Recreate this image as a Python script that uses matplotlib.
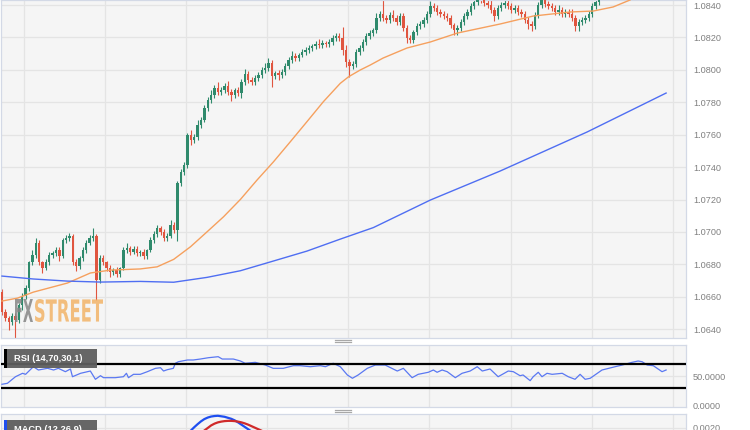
import numpy as np
import matplotlib
matplotlib.use("Agg")
import matplotlib.pyplot as plt
from matplotlib.patches import Rectangle, PathPatch
from matplotlib.lines import Line2D
from matplotlib.textpath import TextPath
from matplotlib.font_manager import FontProperties
from matplotlib.transforms import Affine2D

plt.rcParams['font.family'] = ['Liberation Sans', 'DejaVu Sans']

# Datos (velas horarias EUR/USD)
first_open = 1.06629
closes = [
    1.06506, 1.06469, 1.06444, 1.06481, 1.06457, 1.06549, 1.06605, 1.06654, 1.06814, 1.06858,
    1.06932, 1.06814, 1.06777, 1.06814, 1.06858, 1.06870, 1.06888, 1.06851, 1.06950, 1.06963,
    1.06975, 1.06814, 1.06790, 1.06839, 1.06888, 1.06932, 1.06963, 1.06975, 1.06703, 1.06839,
    1.06814, 1.06777, 1.06753, 1.06765, 1.06740, 1.06777, 1.06888, 1.06901, 1.06876, 1.06895,
    1.06870, 1.06876, 1.06851, 1.06888, 1.06950, 1.06987, 1.07024, 1.07000, 1.06963, 1.06975,
    1.07043, 1.07012, 1.07302, 1.07370, 1.07413, 1.07598, 1.07567, 1.07586, 1.07660, 1.07691,
    1.07765, 1.07814, 1.07845, 1.07888, 1.07863, 1.07876, 1.07900, 1.07863, 1.07845, 1.07876,
    1.07857, 1.07925, 1.07974, 1.07937, 1.07925, 1.07950, 1.07968, 1.07999, 1.08011, 1.08042,
    1.07962, 1.07981, 1.07968, 1.07987, 1.08024, 1.08061, 1.08085, 1.08073, 1.08092, 1.08110,
    1.08122, 1.08135, 1.08147, 1.08160, 1.08153, 1.08166, 1.08160, 1.08172, 1.08197, 1.08209,
    1.08197, 1.08122, 1.08048, 1.08024, 1.08036, 1.08110, 1.08135, 1.08172, 1.08209, 1.08227,
    1.08246, 1.08320, 1.08345, 1.08320, 1.08308, 1.08338, 1.08320, 1.08295, 1.08332, 1.08258,
    1.08197, 1.08184, 1.08234, 1.08271, 1.08283, 1.08308, 1.08345, 1.08394, 1.08382, 1.08357,
    1.08345, 1.08332, 1.08320, 1.08277, 1.08246, 1.08258, 1.08295, 1.08332, 1.08357, 1.08394,
    1.08419, 1.08443, 1.08431, 1.08412, 1.08400, 1.08369, 1.08332, 1.08382, 1.08400, 1.08412,
    1.08394, 1.08369, 1.08382, 1.08357, 1.08345, 1.08308, 1.08283, 1.08271, 1.08338, 1.08400,
    1.08431, 1.08406, 1.08394, 1.08382, 1.08357, 1.08369, 1.08345, 1.08357, 1.08345, 1.08320,
    1.08271, 1.08295, 1.08308, 1.08320, 1.08345, 1.08394, 1.08419, 1.08443,
]
# mechas en pips (0.0001)
upper_wick = [
    2, 2, 1, 2, 2, 1, 2, 2, 1, 3, 3, 2, 1, 2, 2, 1, 2, 2, 1, 2,
    2, 1, 2, 1, 2, 2, 2, 5, 1, 2, 2, 1, 2, 1, 2, 1, 2, 3, 1, 2,
    2, 1, 2, 1, 2, 2, 2, 1, 2, 2, 3, 2, 1, 2, 2, 1, 3, 2, 3, 2,
    2, 2, 3, 2, 4, 2, 2, 3, 2, 1, 2, 2, 3, 2, 2, 2, 2, 2, 3, 3,
    2, 1, 2, 2, 2, 2, 3, 2, 1, 2, 2, 2, 1, 2, 3, 2, 1, 2, 2, 2,
    2, 7, 3, 2, 2, 2, 2, 2, 2, 2, 1, 3, 2, 9, 2, 2, 3, 2, 2, 2,
    2, 2, 1, 2, 2, 2, 2, 3, 2, 2, 2, 2, 2, 2, 1, 2, 2, 2, 2, 2,
    2, 2, 2, 2, 2, 3, 2, 2, 2, 2, 3, 2, 2, 2, 2, 2, 2, 2, 2, 2,
    2, 2, 2, 2, 2, 3, 2, 2, 2, 3, 2, 2, 2, 2, 2, 2, 2, 2,
]
lower_wick = [
    2, 2, 5, 2, 11, 2, 3, 2, 2, 2, 2, 2, 3, 1, 2, 2, 2, 3, 1, 2,
    2, 2, 3, 2, 2, 2, 1, 2, 12, 2, 2, 2, 3, 2, 2, 2, 1, 2, 2, 1,
    2, 2, 2, 2, 1, 2, 2, 2, 2, 2, 1, 2, 7, 2, 2, 2, 3, 2, 2, 2,
    1, 2, 2, 2, 2, 2, 2, 2, 4, 2, 2, 3, 2, 2, 2, 2, 2, 2, 2, 2,
    7, 2, 3, 2, 2, 2, 2, 2, 2, 1, 2, 2, 2, 2, 2, 2, 2, 2, 2, 2,
    2, 3, 3, 7, 2, 2, 2, 2, 2, 2, 2, 2, 2, 2, 2, 2, 2, 2, 2, 2,
    3, 2, 2, 2, 2, 2, 2, 2, 2, 2, 2, 2, 2, 2, 3, 3, 2, 2, 2, 2,
    2, 2, 2, 2, 2, 2, 3, 2, 2, 2, 2, 2, 2, 2, 2, 2, 3, 3, 2, 2,
    2, 2, 2, 2, 2, 2, 2, 2, 2, 2, 3, 3, 2, 2, 2, 2, 2, 2,
]

# medias moviles (indice de vela, precio)
ma_fast_x = [0, 4.6, 9.3, 19.4, 26.2, 32.2, 41.0, 46.0, 50.9, 55.9, 60.8, 65.7, 70.7,
             75.6, 80.5, 85.5, 90.4, 95.3, 100.3, 102.8, 106.2, 109.2, 113.0, 120.1,
             127.0, 135.0, 147.7, 157.5, 168.4, 175.3, 181.2, 186.2]
ma_fast_y = [1.06574, 1.06592, 1.06629, 1.06685, 1.06747, 1.06765, 1.06772, 1.06785,
             1.06831, 1.06909, 1.07001, 1.07094, 1.07201, 1.07320, 1.07433, 1.07557,
             1.07680, 1.07804, 1.07917, 1.07958, 1.07999, 1.08030, 1.08073, 1.08135,
             1.08172, 1.08227, 1.08283, 1.08332, 1.08357, 1.08363, 1.08388, 1.08431]
ma_slow_x = [0, 9.3, 19.4, 29.2, 41.0, 50.9, 60.8, 70.7, 80.5, 90.4, 100.3, 110.1,
             127.0, 147.7, 173.5, 196.9]
ma_slow_y = [1.06728, 1.06710, 1.06697, 1.06691, 1.06695, 1.06690, 1.06720, 1.06761,
             1.06821, 1.06882, 1.06956, 1.07027, 1.07197, 1.07376, 1.07617, 1.07857]

# RSI (14)
rsi_x = [0, 1.6, 4.0, 6.1, 7.0, 9.3, 10.8, 13.5, 15.3, 16.7, 18.8, 20.3, 20.9, 23.3,
         26.2, 27.7, 29.2, 30.1, 33.6, 36.0, 36.9, 37.5, 39.0, 41.0, 43.1, 45.5, 47.0,
         47.9, 49.0, 50.8, 51.4, 52.3, 55.0, 56.7, 58.8, 61.2, 64.1, 65.3, 68.6, 70.7,
         72.1, 75.1, 78.1, 80.4, 83.4, 86.4, 88.4, 91.4, 94.4, 95.9, 98.2, 100.3, 102.4,
         103.9, 105.6, 108.3, 110.7, 113.6, 117.2, 119.0, 121.6, 123.4, 126.4, 127.9,
         129.0, 130.5, 132.0, 134.4, 136.4, 138.8, 140.9, 142.4, 144.7, 147.1, 150.1,
         151.6, 153.6, 154.5, 156.6, 157.5, 159.0, 160.1, 161.6, 163.1, 166.1, 167.9,
         169.9, 171.4, 172.9, 174.4, 177.9, 181.8, 183.9, 186.8, 188.6, 189.8, 191.3,
         193.1, 195.7, 196.9]
rsi_val = [36.2, 37.8, 48.8, 54.5, 52.8, 65.5, 60.0, 62.8, 60.0, 62.8, 57.2, 61.7, 48.8,
           54.5, 58.3, 44.5, 50.5, 47.2, 47.2, 48.8, 54.5, 47.2, 52.8, 52.8, 57.2, 62.8,
           63.8, 58.3, 60.5, 62.8, 71.2, 73.8, 76.7, 76.7, 78.3, 80.5, 82.2, 78.3, 78.3,
           75.0, 71.2, 72.8, 68.3, 62.8, 62.8, 67.2, 67.2, 65.5, 67.2, 65.5, 71.2, 65.5,
           51.7, 46.2, 51.7, 62.8, 68.3, 68.3, 58.3, 62.8, 47.2, 52.8, 56.2, 60.0, 56.2,
           60.0, 57.2, 47.2, 54.5, 58.3, 65.5, 58.3, 61.7, 48.8, 58.3, 57.2, 50.5, 51.7,
           42.2, 48.8, 56.2, 48.8, 54.5, 52.8, 54.5, 48.8, 44.5, 52.8, 44.5, 46.2, 60.0,
           65.5, 68.3, 72.8, 75.0, 73.8, 68.3, 67.2, 57.2, 60.0]

# MACD (12,26,9) - solo la parte visible
macd_x = list(range(55, 75))
macd_val = [0.00180, 0.00190, 0.00203, 0.00215, 0.00226, 0.00235, 0.00241, 0.00245,
            0.00247, 0.00248, 0.00246, 0.00244, 0.00240, 0.00236, 0.00230, 0.00222,
            0.00213, 0.00204, 0.00195, 0.00186]
signal_x = list(range(59, 79))
signal_val = [0.00180, 0.00190, 0.00200, 0.00210, 0.00217, 0.00222, 0.00225, 0.00227,
              0.00228, 0.00228, 0.00227, 0.00225, 0.00222, 0.00218, 0.00213, 0.00207,
              0.00201, 0.00195, 0.00189, 0.00183]

price_ticks = [1.0640, 1.0660, 1.0680, 1.0700, 1.0720, 1.0740, 1.0760, 1.0780,
               1.0800, 1.0820, 1.0840]

# --- armado de velas ---
closes = np.array(closes)
opens = np.concatenate([[first_open], closes[:-1]])
highs = np.maximum(opens, closes) + np.array(upper_wick) * 0.0001
lows = np.minimum(opens, closes) - np.array(lower_wick) * 0.0001
idx = np.arange(len(closes))
up = closes >= opens
green, red = '#2f8a6c', '#e0553f'
cols = np.where(up, green, red)

W, H = 750, 430
fig = plt.figure(figsize=(7.5, 4.3), dpi=100, facecolor='white')

bg = '#f5f5f5'
border = '#d3d9e6'
grid_c = '#e4e4e4'
tick_c = '#808080'
xlim = (-0.44, 202.8)
vgrid = [6.4 + 24.07 * k for k in range(9)]


def panel(top_px, bot_px):
    ax = fig.add_axes([0.5 / W, (H - bot_px) / H, 685.5 / W, (bot_px - top_px) / H])
    ax.set_facecolor(bg)
    for s in ax.spines.values():
        s.set_color(border)
        s.set_linewidth(0.9)
    ax.set_xlim(*xlim)
    ax.set_xticks([])
    ax.yaxis.tick_right()
    ax.tick_params(axis='y', length=0, pad=5, labelsize=6.6, labelcolor=tick_c)
    for v in vgrid:
        ax.axvline(v, color=grid_c, lw=0.9, zorder=0)
    return ax


# Panel principal
ax = panel(0, 338)
ax.set_ylim(1.06346, 1.08431)
ax.set_yticks(price_ticks)
ax.set_yticklabels([f'{t:.4f}' for t in price_ticks])
for t in price_ticks:
    ax.axhline(t, color=grid_c, lw=0.9, zorder=0)
ax.vlines(idx, lows, highs, colors=cols, lw=0.8, zorder=2)
ax.bar(idx, np.maximum(np.abs(closes - opens), 0.00003), bottom=np.minimum(opens, closes),
       width=0.7, color=cols, zorder=3)
ax.plot(ma_fast_x, ma_fast_y, color='#f5a05e', lw=1.0, zorder=4)
ax.plot(ma_slow_x, ma_slow_y, color='#4f6ef2', lw=1.0, zorder=4)

# Panel RSI
ax2 = panel(345, 407)
ax2.set_ylim(-1.7, 101.7)
ax2.set_yticks([0, 50])
ax2.set_yticklabels(['0.0000', '50.0000'])
ax2.axhline(50, color=grid_c, lw=0.9, zorder=0)
ax2.plot(rsi_x, rsi_val, color='#5a78f2', lw=0.9, zorder=3)
ax2.axhline(70, color='black', lw=1.6, zorder=4)
ax2.axhline(30, color='black', lw=1.6, zorder=4)

# Panel MACD
ax3 = panel(414, 476)
ax3.set_ylim(0.00011, 0.00255)
ax3.set_yticks([0.0020])
ax3.set_yticklabels(['0.0020'])
ax3.axhline(0.0020, color=grid_c, lw=0.9, zorder=0)
ax3.plot(macd_x, macd_val, color='#1f4ff0', lw=1.6, zorder=3)
ax3.plot(signal_x, signal_val, color='#d02a2a', lw=1.6, zorder=3)


def px_rect(x0, y0, x1, y1, **kw):
    r = Rectangle((x0 / W, (H - y1) / H), (x1 - x0) / W, (y1 - y0) / H,
                  transform=fig.transFigure, **kw)
    fig.add_artist(r)


# etiquetas de indicadores
px_rect(4, 349, 97, 368, facecolor='#5e5e5e', edgecolor='none', alpha=0.95, zorder=10)
px_rect(4, 349, 6.5, 368, facecolor='black', edgecolor='none', zorder=11)
fig.text(14 / W, (H - 358.5) / H, 'RSI (14,70,30,1)', color='white', fontsize=6.7,
         fontweight='bold', va='center', ha='left', zorder=12)
px_rect(4, 420, 97, 440, facecolor='#5e5e5e', edgecolor='none', alpha=0.95, zorder=10)
px_rect(4, 420, 6.5, 440, facecolor='#1f4ff0', edgecolor='none', zorder=11)
fig.text(14 / W, (H - 429.5) / H, 'MACD (12,26,9)', color='white', fontsize=6.7,
         fontweight='bold', va='center', ha='left', zorder=12)

# manijas entre paneles
for yh in (341, 411):
    for dy in (-1, 1):
        fig.add_artist(Line2D([335 / W, 351 / W], [(H - yh - dy) / H] * 2,
                              transform=fig.transFigure, color='#a8a8a8', lw=0.9))

# marca de agua FXSTREET
fp = FontProperties(family='DejaVu Sans', weight='bold')
for txt, x0, x1, col in [('FX', 15, 33, '#858585'), ('STREET', 35, 103, '#f2b468')]:
    tp = TextPath((0, 0), txt, size=10, prop=fp)
    bb = tp.get_extents()
    tr = (Affine2D().translate(-bb.x0, -bb.y0)
          .scale((x1 - x0) / bb.width, 23 / bb.height)
          .translate(x0, H - 322))
    fig.add_artist(PathPatch(tp, transform=tr, facecolor=col, edgecolor='none',
                             alpha=0.85, zorder=15))

fig.savefig('out.png', dpi=100, facecolor='white')
